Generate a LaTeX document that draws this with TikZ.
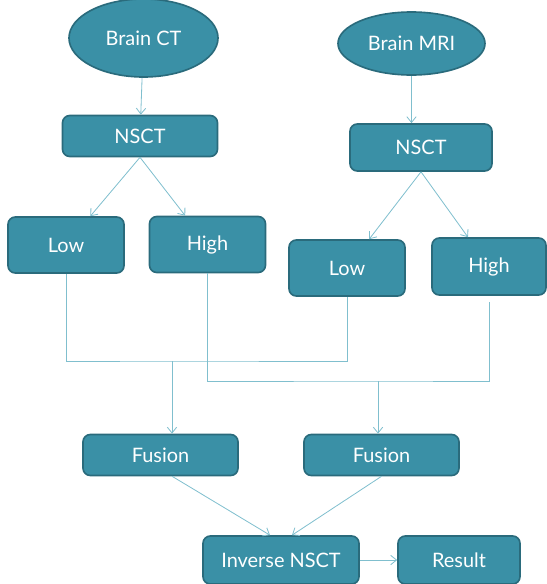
\documentclass[tikz,border=0pt]{standalone}
\usepackage{fontspec}
\setmainfont{Lato}
\usepackage{tikz}
\usetikzlibrary{shapes.geometric,arrows.meta}

\definecolor{boxfill}{HTML}{3A90A6}
\definecolor{boxline}{HTML}{2A6B7C}
\definecolor{wire}{HTML}{80BFCE}

\begin{document}
\begin{tikzpicture}[x=0.03cm,y=-0.03cm]

	\tikzstyle{block}=[draw=boxline,fill=boxfill,line width=1.4pt,rectangle,rounded corners=0.22cm,text=white,text centered,font=\fontsize{17}{19}\selectfont,minimum width=4.65cm,minimum height=1.23cm]
	\tikzstyle{source}=[draw=boxline,fill=boxfill,line width=1.4pt,ellipse,text=white,font=\fontsize{17}{19}\selectfont]
	\tikzstyle{band}=[block,minimum width=3.48cm,minimum height=1.68cm]
	\tikzstyle{link}=[draw=wire,line width=0.7pt,-{Straight Barb[length=5pt,width=8pt]}]
	\tikzstyle{wireline}=[draw=wire,line width=0.7pt]

	\useasboundingbox (0,0) rectangle (546,584);

	\node[source,minimum width=4.47cm,minimum height=2.34cm] (ct) at (143.5,38) {Brain CT};
	\node[source,minimum width=4.41cm,minimum height=1.89cm] (mri) at (411.5,43.5) {Brain MRI};

	\node[block] (nsctA) at (140,136) {NSCT};
	\node[block,minimum width=4.26cm,minimum height=1.41cm] (nsctB) at (421,147.5) {NSCT};

	\node[band] (lowA) at (66,245) {Low};
	\node[band] (highA) at (207.5,244.5) {High};
	\node[band] (lowB) at (347,268) {Low};
	\node[band,minimum width=3.42cm,minimum height=1.71cm] (highB) at (489,266.5) {High};

	\node[block] (fusA) at (160.5,455) {Fusion};
	\node[block] (fusB) at (381.5,455) {Fusion};

	\node[block,minimum width=4.68cm,minimum height=1.44cm] (inv) at (281,560) {Inverse NSCT};
	\node[block,minimum width=3.66cm,minimum height=1.44cm] (res) at (459,560) {Result};

	\coordinate (jA) at (172,361);
	\coordinate (jB) at (378,381);

	\draw[link] (ct) -- (nsctA);
	\draw[link] (mri) -- (mri |- nsctB.north);

	\draw[link] (nsctA.south) -- (lowA);
	\draw[link] (nsctA.south) -- (highA);
	\draw[link] (nsctB.south) -- (lowB);
	\draw[link] (nsctB.south) -- (highB);

	\draw[wireline] (lowA.south) |- (jA) -| (lowB.south);
	\draw[wireline] (highA.south) |- (jB) -| ([yshift=-0.2cm]highB.south);

	\draw[link] (jA) -- (jA |- fusA.north);
	\draw[link] (jB) -- (jB |- fusB.north);

	\draw[link] ([xshift=0.35cm]fusA.south) -- ([xshift=-0.33cm]inv.north);
	\draw[link] (fusB.south) -- ([xshift=0.33cm]inv.north);
	\draw[link] (inv) -- (res);

\end{tikzpicture}
\end{document}
